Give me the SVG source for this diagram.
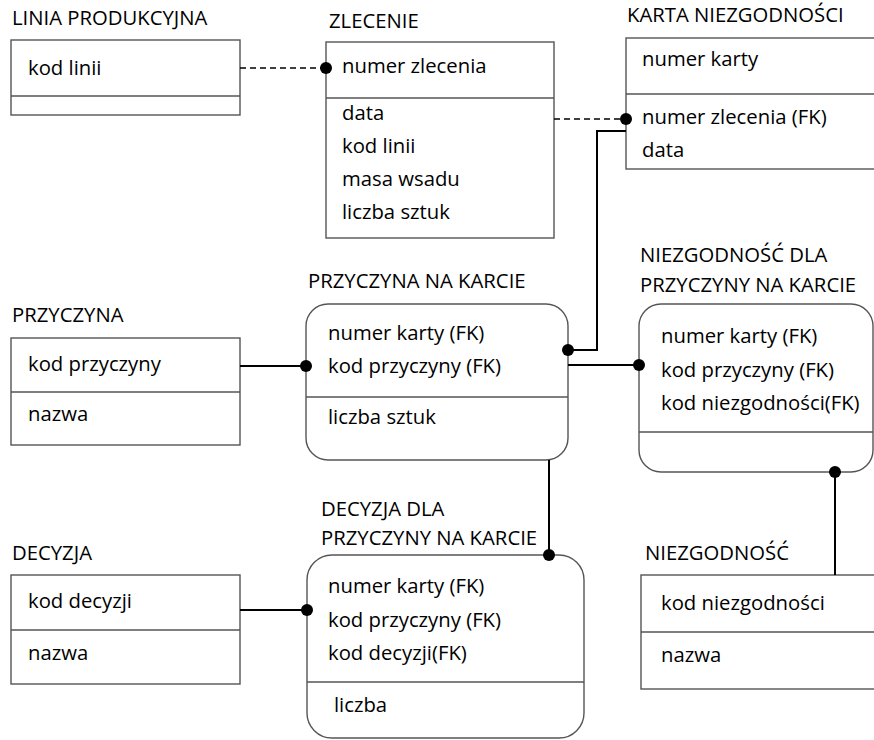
<svg xmlns="http://www.w3.org/2000/svg" width="874" height="740" viewBox="0 0 874 740">
<style>
.box{fill:#fff;stroke:#555;stroke-width:1.4}
.div{stroke:#555;stroke-width:1.4}
.t{font-family:"Open Sans","Liberation Sans",sans-serif;font-size:20.3px;fill:#000}
.c{fill:none;stroke:#000;stroke-width:2}
.d{fill:none;stroke:#000;stroke-width:1.6;stroke-dasharray:6 4}
.dot{fill:#000}
</style>
<rect width="874" height="740" fill="#fff"/>
<g id="linia">
<text class="t" x="12" y="25">LINIA PRODUKCYJNA</text>
<rect class="box" x="11" y="40" width="229" height="75"/>
<line class="div" x1="11" y1="96" x2="240" y2="96"/>
<text class="t" x="28" y="75">kod linii</text>
</g>
<g id="zlecenie">
<text class="t" x="329" y="28">ZLECENIE</text>
<rect class="box" x="326" y="42" width="228" height="196"/>
<line class="div" x1="326" y1="98" x2="554" y2="98"/>
<text class="t" x="342" y="73">numer zlecenia</text>
<text class="t" x="342" y="120">data</text>
<text class="t" x="342" y="153">kod linii</text>
<text class="t" x="342" y="186">masa wsadu</text>
<text class="t" x="342" y="219">liczba sztuk</text>
</g>
<g id="karta">
<text class="t" x="627" y="22">KARTA NIEZGODNOŚCI</text>
<rect class="box" x="626" y="38" width="260" height="131"/>
<line class="div" x1="626" y1="94" x2="874" y2="94"/>
<text class="t" x="642" y="66">numer karty</text>
<text class="t" x="642" y="124">numer zlecenia (FK)</text>
<text class="t" x="642" y="157">data</text>
</g>
<g id="przyczyna">
<text class="t" x="12" y="322">PRZYCZYNA</text>
<rect class="box" x="11" y="338" width="229" height="107"/>
<line class="div" x1="11" y1="392" x2="240" y2="392"/>
<text class="t" x="28" y="371">kod przyczyny</text>
<text class="t" x="28" y="421">nazwa</text>
</g>
<g id="przyczyna-na-karcie">
<text class="t" x="308" y="288">PRZYCZYNA NA KARCIE</text>
<rect class="box" x="306" y="304" width="262" height="156" rx="22" ry="22"/>
<line class="div" x1="306" y1="397" x2="568" y2="397"/>
<text class="t" x="328" y="340">numer karty (FK)</text>
<text class="t" x="328" y="373">kod przyczyny (FK)</text>
<text class="t" x="328" y="424">liczba sztuk</text>
</g>
<g id="niezgodnosc-dla-przyczyny">
<text class="t" x="640" y="262">NIEZGODNOŚĆ DLA</text>
<text class="t" x="640" y="292">PRZYCZYNY NA KARCIE</text>
<rect class="box" x="639" y="304" width="234" height="168" rx="22" ry="22"/>
<line class="div" x1="639" y1="432" x2="873" y2="432"/>
<text class="t" x="661" y="343">numer karty (FK)</text>
<text class="t" x="661" y="377">kod przyczyny (FK)</text>
<text class="t" x="661" y="410">kod niezgodności(FK)</text>
</g>
<g id="decyzja">
<text class="t" x="12" y="560">DECYZJA</text>
<rect class="box" x="11" y="575" width="229" height="109"/>
<line class="div" x1="11" y1="630" x2="240" y2="630"/>
<text class="t" x="28" y="608">kod decyzji</text>
<text class="t" x="28" y="660">nazwa</text>
</g>
<g id="decyzja-dla-przyczyny">
<text class="t" x="321" y="516">DECYZJA DLA</text>
<text class="t" x="321" y="545">PRZYCZYNY NA KARCIE</text>
<rect class="box" x="307" y="555" width="277" height="183" rx="25" ry="25"/>
<line class="div" x1="307" y1="682" x2="584" y2="682"/>
<text class="t" x="328" y="593">numer karty (FK)</text>
<text class="t" x="328" y="627">kod przyczyny (FK)</text>
<text class="t" x="328" y="660">kod decyzji(FK)</text>
<text class="t" x="334" y="712">liczba</text>
</g>
<g id="niezgodnosc">
<text class="t" x="645" y="560">NIEZGODNOŚĆ</text>
<rect class="box" x="641" y="575" width="240" height="114"/>
<line class="div" x1="641" y1="632" x2="874" y2="632"/>
<text class="t" x="661" y="610">kod niezgodności</text>
<text class="t" x="661" y="662">nazwa</text>
</g>
<g id="connectors">
<line class="d" x1="240" y1="68" x2="326" y2="68"/>
<circle class="dot" cx="326" cy="68" r="6"/>
<line class="d" x1="554" y1="119" x2="626" y2="119"/>
<circle class="dot" cx="626" cy="119" r="6"/>
<polyline class="c" points="626,131 597,131 597,350 568,350"/>
<circle class="dot" cx="568" cy="350" r="6"/>
<line class="c" x1="240" y1="366" x2="306" y2="366"/>
<circle class="dot" cx="306" cy="366" r="6"/>
<line class="c" x1="568" y1="365" x2="639" y2="365"/>
<circle class="dot" cx="639" cy="365" r="6"/>
<line class="c" x1="835" y1="472" x2="835" y2="575"/>
<circle class="dot" cx="835" cy="472" r="6"/>
<line class="c" x1="549" y1="460" x2="549" y2="555"/>
<circle class="dot" cx="549" cy="555" r="6"/>
<line class="c" x1="240" y1="610" x2="307" y2="610"/>
<circle class="dot" cx="307" cy="610" r="6"/>
</g>
</svg>
